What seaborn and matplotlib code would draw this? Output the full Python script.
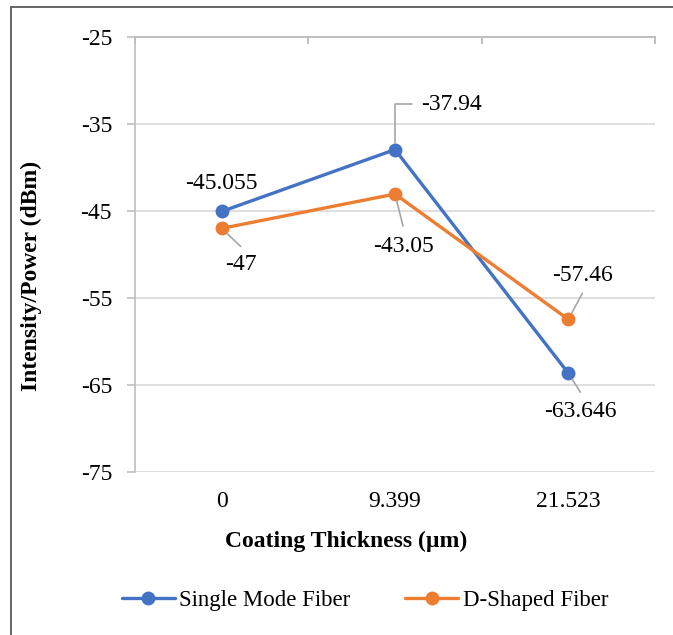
import matplotlib
matplotlib.use("Agg")
import matplotlib.pyplot as plt
from matplotlib.lines import Line2D
import seaborn as sns
import pandas as pd

# Data
thickness_labels = ["0", "9.399", "21.523"]
single_mode = [-45.055, -37.94, -63.646]
d_shaped = [-47, -43.05, -57.46]
series_names = ["Single Mode Fiber", "D-Shaped Fiber"]
y_ticks = [-25, -35, -45, -55, -65, -75]

df = pd.DataFrame({
    "thickness": thickness_labels * 2,
    "power": single_mode + d_shaped,
    "fiber": [series_names[0]] * 3 + [series_names[1]] * 3,
})

sns.set_style("white")
plt.rcParams["font.family"] = ["Liberation Serif", "DejaVu Serif"]
plt.rcParams["font.size"] = 17
for key in ["text.color", "axes.labelcolor", "xtick.labelcolor", "ytick.labelcolor"]:
    plt.rcParams[key] = "black"

FS = 17
W, H = 673, 635
fig = plt.figure(figsize=(W / 100, H / 100), dpi=100)
ax = fig.add_axes([135 / W, 1 - 472 / H, 520 / W, 435 / H])

colors = {"Single Mode Fiber": "#4472C4", "D-Shaped Fiber": "#ED7D31"}
sns.lineplot(data=df, x="thickness", y="power", hue="fiber", palette=colors,
             marker="o", markersize=10, markeredgewidth=0, linewidth=2.4,
             sort=False, ax=ax)

ax.set_xlim(-0.5, 2.5)
ax.set_ylim(-75, -25)
ax.set_yticks(y_ticks)
ax.set_yticklabels([str(v) for v in y_ticks])
ax.yaxis.grid(True, color="#d9d9d9", linewidth=1.2)
ax.xaxis.grid(False)
ax.set_axisbelow(True)

for side in ["right", "bottom"]:
    ax.spines[side].set_visible(False)
ax.spines["left"].set_color("#bfbfbf")
ax.spines["left"].set_linewidth(1.2)
ax.spines["top"].set_color("#bfbfbf")
ax.spines["top"].set_linewidth(1.4)

ax.tick_params(axis="y", which="major", left=True, length=6, width=1.2,
               color="#bfbfbf", pad=10.5, labelsize=FS)
ax.tick_params(axis="x", which="major", bottom=False, length=0, pad=14,
               labelsize=FS)
ax.set_xticks([-0.5, 0.5, 1.5, 2.5], minor=True)
ax.tick_params(axis="x", which="minor", bottom=False, top=True,
               direction="in", length=5, width=1.4, color="#bfbfbf")

ax.set_xlabel("Coating Thickness (µm)", fontweight="bold", fontsize=FS)
ax.set_ylabel("Intensity/Power (dBm)", fontweight="bold", fontsize=FS)
ax.xaxis.set_label_coords(0.406, -0.159)
ax.yaxis.set_label_coords(-0.20, 0.45)
ax.xaxis.label.set_va("center")
ax.yaxis.label.set_va("center")

# Data labels with leader lines (offsets in pixels, converted to points)
px = 0.72
leader = dict(arrowstyle="-", color="#a6a6a6", lw=1.2, shrinkA=0, shrinkB=5)
labels = [
    # (x index, value, text offset, leader end, elbow leader)
    (0, single_mode[0], (0, 28), None, False),
    (0, d_shaped[0], (19, -36), (19, -18), False),
    (1, single_mode[1], (56, 45), (17, 46), True),
    (1, d_shaped[1], (8, -52), (8, -32), False),
    (2, d_shaped[2], (14, 44), (14, 26), False),
    (2, single_mode[2], (12, -38), (12, -19), False),
]
for xi, val, toff, loff, elbow in labels:
    ax.annotate(f"{val:g}", xy=(xi, val), xytext=(toff[0] * px, toff[1] * px),
                textcoords="offset points", ha="center", va="center",
                fontsize=FS, color="black")
    if loff is not None:
        props = dict(leader)
        if elbow:
            props["connectionstyle"] = "angle,angleA=0,angleB=90,rad=0"
        ax.annotate("", xy=(xi, val), xytext=(loff[0] * px, loff[1] * px),
                    textcoords="offset points", arrowprops=props)

# Legend below the plot
handles, labs = ax.get_legend_handles_labels()
ax.get_legend().remove()
fig.legend(handles, labs, loc="center", bbox_to_anchor=(365 / W, 1 - 600 / H),
           ncol=2, frameon=False, fontsize=16.5, handlelength=2.3,
           handletextpad=0.2, columnspacing=2.4)

# Outer frame (left and top edges)
frame_kw = dict(transform=fig.transFigure, color="#595959", lw=1.3)
fig.add_artist(Line2D([11 / W, 11 / W], [0, 1 - 7 / H], **frame_kw))
fig.add_artist(Line2D([11 / W, 1], [1 - 7 / H, 1 - 7 / H], **frame_kw))

fig.savefig("out.png", dpi=100, facecolor="white")
